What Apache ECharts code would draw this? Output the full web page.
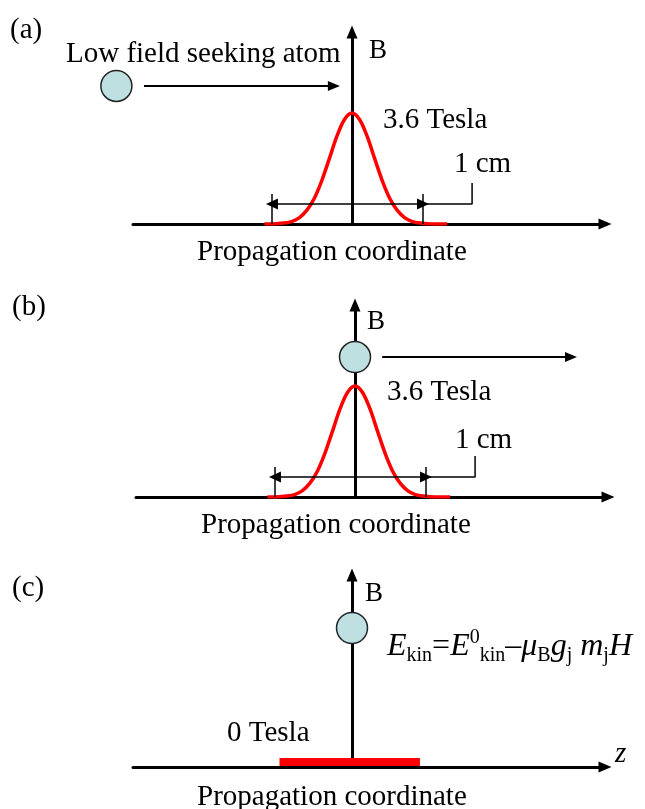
<!DOCTYPE html>
<html>
<head>
<meta charset="utf-8">
<script src="https://cdn.jsdelivr.net/npm/echarts@6/dist/echarts.min.js"></script>
<style>
html,body{margin:0;padding:0;background:#fff;}
#main{width:645px;height:809px;}
</style>
</head>
<body>
<div id="main"></div>
<script>
// ---- data (x in cm along propagation coordinate, y in Tesla) ----
const gaussX = [-0.58, -0.5, -0.45, -0.4, -0.35, -0.3, -0.25, -0.2, -0.15, -0.1, -0.05, 0, 0.05, 0.1, 0.15, 0.2, 0.25, 0.3, 0.35, 0.4, 0.45, 0.5, 0.55, 0.63];
const gaussB = [0, 0.01, 0.03, 0.08, 0.2, 0.44, 0.83, 1.41, 2.12, 2.85, 3.39, 3.6, 3.39, 2.85, 2.12, 1.41, 0.83, 0.44, 0.2, 0.08, 0.03, 0.01, 0, 0];
const peakTesla = 3.6;
const zeroFieldRange = [-0.48, 0.45];      // cm, red 0 Tesla region in (c)
const spanCm = [-0.53, 0.47];              // the "1 cm" dimension
const spanTickTop = 0.97;                  // T
const spanLevel = 0.65;                    // T
const leaderX = [0.47, 0.795, 0.795];
const leaderY = [0.65, 0.65, 1.33];
const atomA = [-1.56, 4.48];
const arrowA = [[-1.377, 4.48], [-0.12, 4.48]];
const atomB = [0.0, 4.54];
const arrowB = [[0.18, 4.54], [1.43, 4.54]];
const atomC = [0.0, 4.51];
const labels = {
  a: '(a)', b: '(b)', c: '(c)',
  atom: 'Low field seeking atom',
  axisB: 'B', peak: '3.6 Tesla', zero: '0 Tesla', span: '1 cm',
  prop: 'Propagation coordinate', z: 'z'
};

const X_MIN = -1.45, X_MAX = 1.675, Y_MAX = 6.23;
const SERIF = '"Liberation Serif", "DejaVu Serif", serif';
const grids = [
  {left: 133, top: 32, width: 472, height: 192},
  {left: 136, top: 305, width: 472, height: 192},
  {left: 133, top: 575, width: 472, height: 192}
];

const xAxes = grids.map((g, i) => ({
  gridIndex: i, type: 'value', min: X_MIN, max: X_MAX,
  axisLine: {show: true, lineStyle: {color: '#000', width: 3}, symbol: ['none', 'triangle'], symbolSize: [11, 13]},
  axisTick: {show: false}, axisLabel: {show: false}, splitLine: {show: false}
}));
const yAxes = grids.map((g, i) => ({
  gridIndex: i, type: 'value', min: 0, max: Y_MAX,
  axisLine: {show: true, onZero: true, lineStyle: {color: '#000', width: 3}, symbol: ['none', 'triangle'], symbolSize: [11, 13]},
  axisTick: {show: false}, axisLabel: {show: false}, splitLine: {show: false}
}));

const gaussData = gaussX.map((x, i) => [x, gaussB[i]]);
const thin = {color: '#000', width: 1.5, type: 'solid'};

function dimensionMarks() {
  return {
    silent: true, animation: false, label: {show: false},
    lineStyle: thin, emphasis: {disabled: true},
    data: [
      [{coord: [spanCm[0], spanLevel], symbol: 'triangle', symbolSize: [11, 12]},
       {coord: [spanCm[1], spanLevel], symbol: 'triangle', symbolSize: [11, 12]}],
      [{coord: [spanCm[0], 0], symbol: 'none'}, {coord: [spanCm[0], spanTickTop], symbol: 'none'}],
      [{coord: [spanCm[1], 0], symbol: 'none'}, {coord: [spanCm[1], spanTickTop], symbol: 'none'}]
    ]
  };
}
function arrowMark(a) {
  return {
    silent: true, animation: false, label: {show: false},
    lineStyle: {color: '#000', width: 2, type: 'solid'}, emphasis: {disabled: true},
    data: [[{coord: a[0], symbol: 'none'}, {coord: a[1], symbol: 'triangle', symbolSize: [10, 12]}]]
  };
}
function leaderSeries(i) {
  return {
    type: 'line', xAxisIndex: i, yAxisIndex: i, symbol: 'none', silent: true,
    data: leaderX.map((x, k) => [x, leaderY[k]]),
    lineStyle: thin, z: 3
  };
}
function atomSeries(i, p) {
  return {
    type: 'scatter', xAxisIndex: i, yAxisIndex: i, clip: false, silent: true,
    symbol: 'circle', symbolSize: [31, 31],
    itemStyle: {color: '#bfe0e0', borderColor: '#222', borderWidth: 1.5, opacity: 1},
    data: [p], z: 6
  };
}

const series = [];
// panel (a)
series.push({type: 'line', xAxisIndex: 0, yAxisIndex: 0, data: gaussData, smooth: 0.3, symbol: 'none', silent: true,
  lineStyle: {color: '#ff0000', width: 3.5}, z: 4, markLine: dimensionMarks()});
series.push(leaderSeries(0));
series.push(Object.assign(atomSeries(0, atomA), {markLine: arrowMark(arrowA)}));
// panel (b)
series.push({type: 'line', xAxisIndex: 1, yAxisIndex: 1, data: gaussData, smooth: 0.3, symbol: 'none', silent: true,
  lineStyle: {color: '#ff0000', width: 3.5}, z: 4, markLine: dimensionMarks()});
series.push(leaderSeries(1));
series.push(Object.assign(atomSeries(1, atomB), {markLine: arrowMark(arrowB)}));
// panel (c)
series.push({
  type: 'custom', xAxisIndex: 2, yAxisIndex: 2, silent: true, z: 4,
  data: [[zeroFieldRange[0], zeroFieldRange[1], 0]],
  renderItem: function (params, api) {
    const p0 = api.coord([api.value(0), api.value(2)]);
    const p1 = api.coord([api.value(1), api.value(2)]);
    return {type: 'rect', shape: {x: p0[0], y: p0[1] - 9, width: p1[0] - p0[0], height: 8}, style: {fill: '#ff0000'}};
  }
});
series.push(atomSeries(2, atomC));

function txt(text, x, y, size, extra) {
  return {type: 'text', x: x, y: y, z: 100, silent: true,
    style: Object.assign({text: text, font: size + 'px ' + SERIF, fill: '#000', textVerticalAlign: 'middle', textAlign: 'left'}, extra || {})};
}

const graphic = [
  txt(labels.a, 10, 30, 29),
  txt(labels.atom, 66, 54, 29),
  txt(labels.axisB, 369, 51, 27),
  txt(labels.peak, 383, 120, 29),
  txt(labels.span, 454, 164, 29),
  txt(labels.prop, 197, 252, 29),

  txt(labels.b, 12, 307, 29),
  txt(labels.axisB, 367, 322, 27),
  txt(labels.peak, 387, 392, 29),
  txt(labels.span, 455, 440, 29),
  txt(labels.prop, 201, 525, 29),

  txt(labels.c, 12, 588, 29),
  txt(labels.axisB, 365, 594, 27),
  txt(labels.zero, 227, 733, 29),
  txt(labels.z, 615, 754, 29, {font: 'italic 29px ' + SERIF}),
  txt(labels.prop, 197, 797, 29),
  {type: 'text', x: 387, y: 647, z: 100, silent: true,
    style: {
      text: '{i|E}{s|kin}{r|=}{i|E}{p|0}{s|kin}{r|\u2013}{i|\u03bc}{s|B}{i|g}{s|j}{r| }{i|m}{s|j}{i|H}',
      textVerticalAlign: 'middle', textAlign: 'left', fill: '#000',
      rich: {
        i: {font: 'italic 32px ' + SERIF, lineHeight: 38, verticalAlign: 'middle', fill: '#000'},
        r: {font: '32px ' + SERIF, lineHeight: 38, verticalAlign: 'middle', fill: '#000'},
        s: {font: '20px ' + SERIF, lineHeight: 20, verticalAlign: 'bottom', fill: '#000'},
        p: {font: '20px ' + SERIF, lineHeight: 20, verticalAlign: 'top', fill: '#000'}
      }
    }}
];

const chart = echarts.init(document.getElementById('main'), null, {renderer: 'canvas'});
chart.setOption({
  animation: false,
  backgroundColor: '#fff',
  grid: grids,
  xAxis: xAxes,
  yAxis: yAxes,
  series: series,
  graphic: graphic
});
</script>
</body>
</html>
